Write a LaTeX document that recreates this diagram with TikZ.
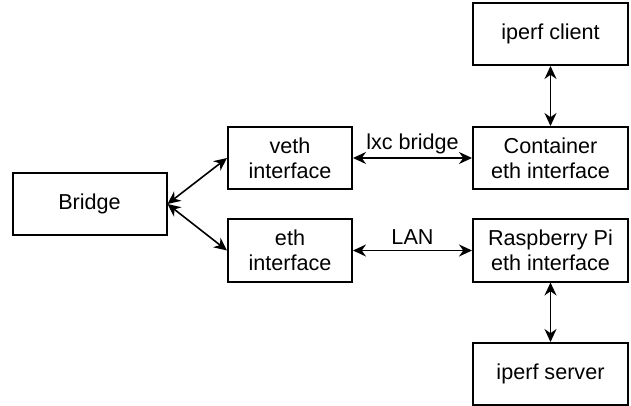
\documentclass[tikz,border=0pt]{standalone}
\usepackage{fontspec}
\setmainfont{Liberation Sans}
\usepackage{tikz}
\usetikzlibrary{arrows.meta,calc}
\tikzset{
  box/.style={draw, line width=1pt, minimum height=31pt, align=center, inner sep=2pt},
  lnk/.style={{Stealth[length=6.5pt,width=6pt]}-{Stealth[length=6.5pt,width=6pt]}, line width=0.8pt}
}

\begin{document}
\begin{tikzpicture}[x=0.5pt,y=-0.5pt,font=\fontsize{10.8}{12.6}\selectfont]
    \useasboundingbox (0,0) rectangle (631,406);
		    \node[box, minimum width=77pt]   (br)   at (89.5,204)  {Bridge};
		    \node[box, minimum width=62pt]   (veth) at (290,158)   {veth\\interface};
		    \node[box, minimum width=62pt]   (eth)  at (290,250.5) {eth\\interface};
		    \node[box, minimum width=77.5pt] (cli)  at (550.5,34)  {iperf client};
		    \node[box, minimum width=77.5pt] (cont) at (550.5,158) {Container\\eth interface};
		    \node[box, minimum width=77.5pt] (rpi)  at (550.5,250.5) {Raspberry Pi\\eth interface};
		    \node[box, minimum width=77.5pt] (srv)  at (550.5,374) {iperf server};
    \draw[lnk] (br.east)--(veth.west);
    \draw[lnk] (br.east)--(eth.west);
    \draw[lnk] (veth)--node[above, inner sep=1.5pt] {lxc bridge} (cont);
    \draw[lnk] (eth)--node[above, inner sep=2.5pt] {LAN} (rpi);
    \draw[lnk] (cli)--(cont);
    \draw[lnk] (rpi)--(srv);
   	\end{tikzpicture}
\end{document}
